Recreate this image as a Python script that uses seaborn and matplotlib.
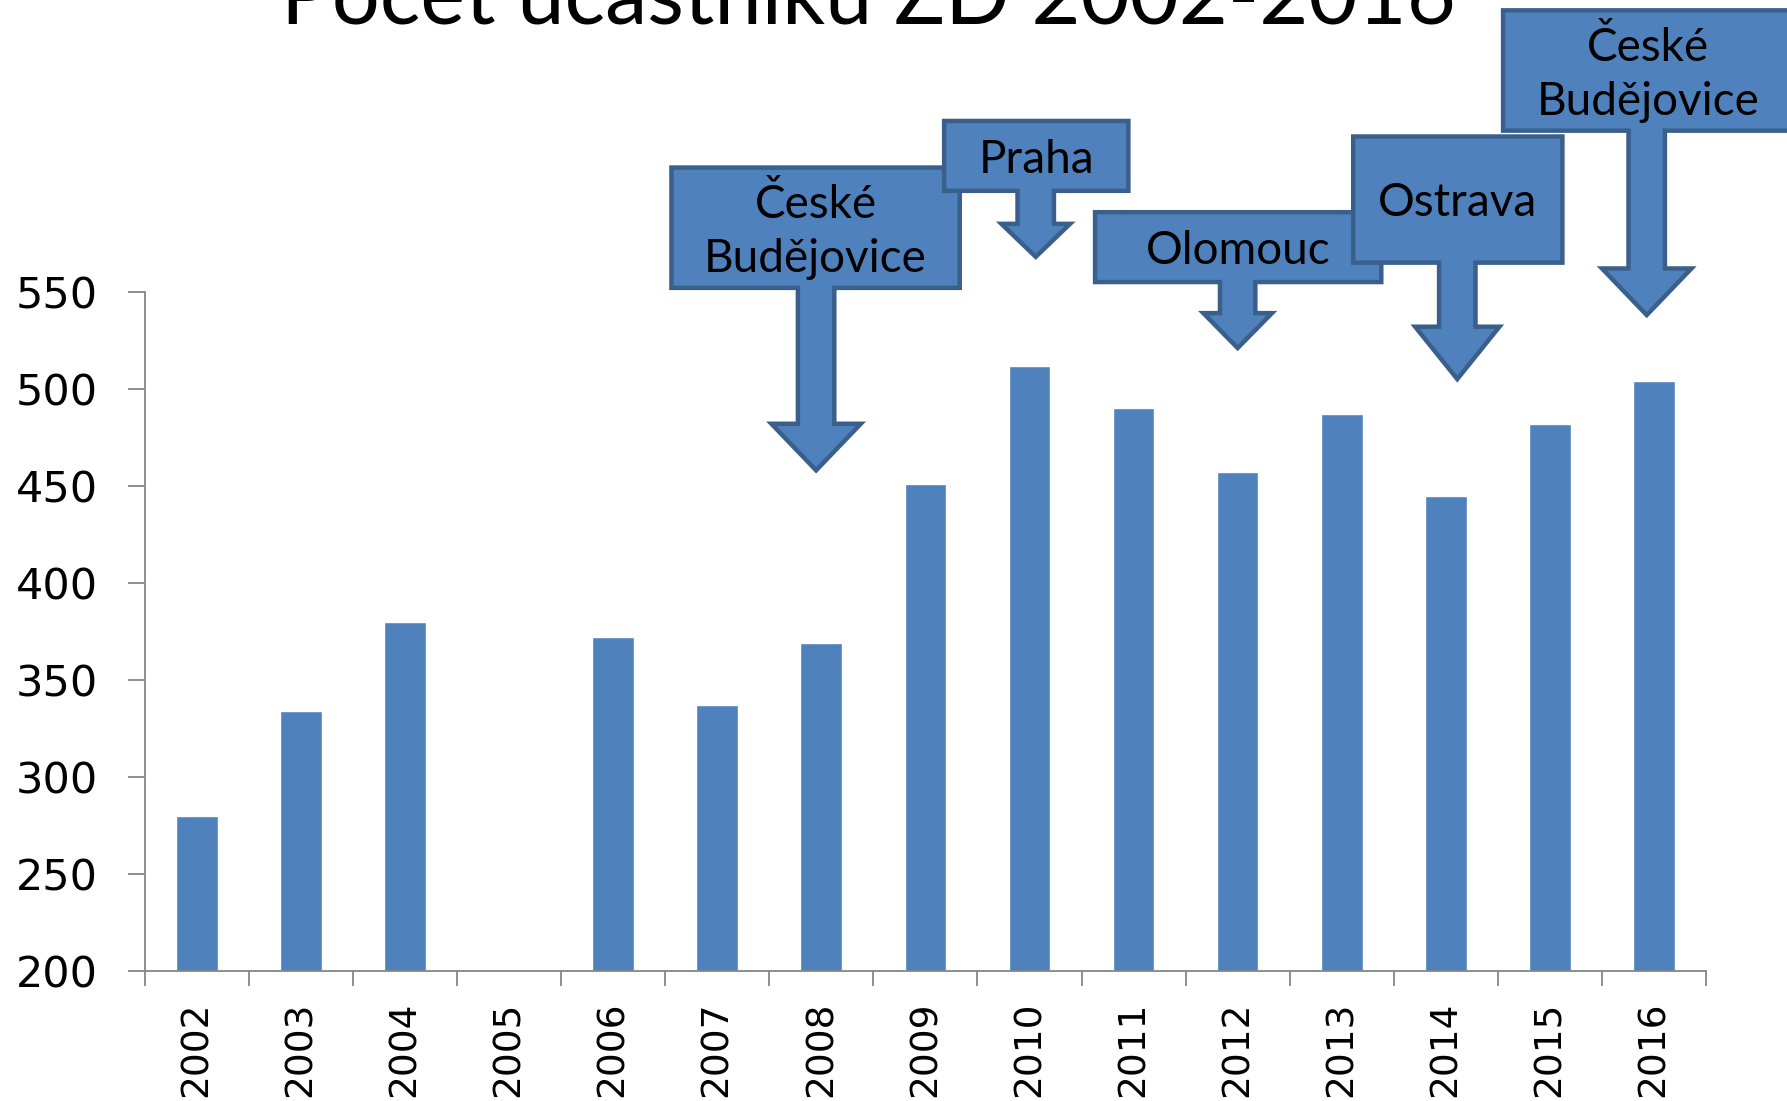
import numpy as np
import pandas as pd
import matplotlib
matplotlib.use("Agg")
import matplotlib.pyplot as plt
from matplotlib.patches import Polygon
import seaborn as sns

# data
years = ["2002", "2003", "2004", "2005", "2006", "2007", "2008", "2009",
         "2010", "2011", "2012", "2013", "2014", "2015", "2016"]
participants = [280, 334, 380, np.nan, 372, 337, 369, 451,
                512, 490, 457, 487, 445, 482, 504]
title = "Počet účastníků ZD 2002-2016"

# callout arrows: (year, text, box left, box right, box top, box bottom,
#                  arrow x, shaft half width, head half width, head top, tip)
callouts = [
    ("2008", "České\nBudějovice", 4.56, 7.33, 614, 552, 5.95, 0.175, 0.43, 482, 458),
    ("2010", "Praha", 7.18, 8.95, 638, 602, 8.06, 0.175, 0.33, 585, 568),
    ("2012", "Olomouc", 8.63, 11.38, 591, 555, 10.0, 0.17, 0.33, 539, 521),
    ("2014", "Ostrava", 11.11, 13.12, 630, 565, 12.11, 0.175, 0.405, 532, 505),
    ("2016", "České\nBudějovice", 12.55, 15.33, 695, 633, 13.93, 0.175, 0.43, 562, 538),
]

bar_color = "#4F81BD"
edge_color = "#3A5F8B"
axis_gray = "#868686"

sns.set_theme(style="ticks")
plt.rcParams['font.family'] = ['DejaVu Sans']
plt.rcParams['text.color'] = 'black'
narrow = ['Lato', 'DejaVu Sans']

df = pd.DataFrame({"rok": years, "pocet": participants})

fig = plt.figure(figsize=(17.87, 11.01), dpi=100)
ax = fig.add_axes([0.081, 0.118, 0.8737, 0.617])

sns.barplot(data=df, x="rok", y="pocet", order=years, color=bar_color,
            saturation=1, width=0.4, errorbar=None, ax=ax)

ax.set_ylim(200, 550)
ax.set_xlim(-0.5, len(years) - 0.5)
ax.set_yticks(np.arange(200, 551, 50))
ax.set_xlabel("")
ax.set_ylabel("")

for s in ["top", "right"]:
    ax.spines[s].set_visible(False)
for s in ["left", "bottom"]:
    ax.spines[s].set_color(axis_gray)
    ax.spines[s].set_linewidth(1.3)

ax.tick_params(axis="y", length=12, width=1.3, color=axis_gray, pad=22,
               labelsize=31, labelcolor="black")
ax.tick_params(axis="x", which="major", length=0, pad=22, labelsize=27,
               labelrotation=90, labelcolor="black")
ax.set_xticks(np.arange(-0.5, len(years), 1), minor=True)
ax.tick_params(axis="x", which="minor", length=11, width=1.3, color=axis_gray)

# callouts
for year, text, L, R, T, B, cx, sw, hw, H, tip in callouts:
    pts = [(L, T), (R, T), (R, B), (cx + sw, B), (cx + sw, H), (cx + hw, H),
           (cx, tip), (cx - hw, H), (cx - sw, H), (cx - sw, B), (L, B)]
    poly = Polygon(pts, closed=True, facecolor=bar_color, edgecolor=edge_color,
                   linewidth=3.2, joinstyle="miter", clip_on=False, zorder=5)
    ax.add_patch(poly)
    ax.text((L + R) / 2, (T + B) / 2 - 2, text, ha="center", va="center",
            fontsize=33, family=narrow, color="black", linespacing=1.35,
            zorder=6, clip_on=False)

fig.text(0.486, 0.979, title, ha="center", va="baseline", fontsize=61,
         family=narrow, color="black")

fig.savefig("out.png", dpi=100)
